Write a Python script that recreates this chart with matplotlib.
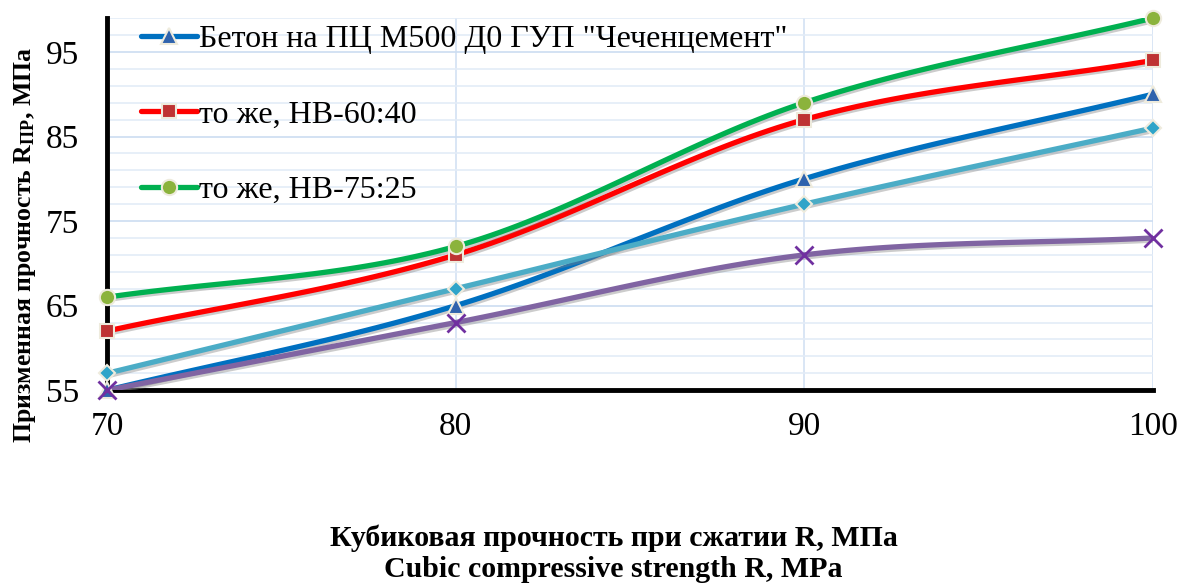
import numpy as np
import matplotlib
matplotlib.use('Agg')
import matplotlib.pyplot as plt
import matplotlib.patheffects as pe
from matplotlib.ticker import MultipleLocator

plt.rcParams['font.family'] = ['Liberation Serif', 'DejaVu Serif']
plt.rcParams['mathtext.fontset'] = 'custom'
plt.rcParams['mathtext.rm'] = 'Liberation Serif'
plt.rcParams['mathtext.bf'] = 'Liberation Serif:bold'

# data
x = [70, 80, 90, 100]
beton_pc = [55, 65, 80, 90]
hv_60_40 = [62, 71, 87, 94]
hv_75_25 = [66, 72, 89, 99]
series_4 = [57, 67, 77, 86]
series_5 = [55, 63, 71, 73]

labels = ['Бетон на ПЦ М500 Д0 ГУП "Чеченцемент"', 'то же, НВ-60:40', 'то же, НВ-75:25', None, None]


def smooth(xs, ys, n=40):
    # Catmull-Rom curve through the points, like Excel "smoothed line"
    xs = np.asarray(xs, float)
    ys = np.asarray(ys, float)
    px = np.concatenate([[2 * xs[0] - xs[1]], xs, [2 * xs[-1] - xs[-2]]])
    py = np.concatenate([[2 * ys[0] - ys[1]], ys, [2 * ys[-1] - ys[-2]]])
    ox, oy = [], []
    t = np.linspace(0, 1, n)
    for i in range(1, len(px) - 2):
        for p, o in ((px, ox), (py, oy)):
            p0, p1, p2, p3 = p[i - 1], p[i], p[i + 1], p[i + 2]
            o.extend(0.5 * (2 * p1 + (-p0 + p2) * t + (2 * p0 - 5 * p1 + 4 * p2 - p3) * t ** 2
                            + (-p0 + 3 * p1 - 3 * p2 + p3) * t ** 3))
    return ox, oy


styles = [
    (beton_pc, '#0070C0', '^', '#2F63AD', 11),
    (hv_60_40, '#FF0000', 's', '#BE3333', 10),
    (hv_75_25, '#00B050', 'o', '#8BB33C', 11),
    (series_4, '#4BACC6', 'D', '#2FA4C9', 8),
    (series_5, '#8064A2', 'x', '#7030A0', 13),
]

fig = plt.figure(figsize=(11.8, 5.85), dpi=100)
ax = fig.add_axes([0.0907, 0.333, 0.8863, 0.636])

shadow = [pe.SimpleLineShadow(offset=(1.5, -1.5), shadow_color='gray', alpha=0.4), pe.Normal()]
handles = []
for (ys, col, mk, mcol, ms), lab in zip(styles, labels):
    sx, sy = smooth(x, ys)
    ax.plot(sx, sy, color=col, lw=3.8, solid_capstyle='round', path_effects=shadow, zorder=3)
    if mk == 'x':
        ax.plot(x, ys, ls='none', marker=mk, ms=ms, mew=2, color=mcol, zorder=4, clip_on=False)
    else:
        ax.plot(x, ys, ls='none', marker=mk, ms=ms, mfc=mcol, mec='#EEEBDD', mew=1.5,
                zorder=4, clip_on=False)
    if lab:
        h, = ax.plot([], [], color=col, lw=3.8, solid_capstyle='round', marker=mk, ms=ms,
                     mfc=mcol, mec='#EEEBDD', mew=1.5, label=lab)
        handles.append(h)

ax.set_xlim(70, 100)
ax.set_ylim(55, 99)
ax.xaxis.set_major_locator(MultipleLocator(10))
ax.yaxis.set_major_locator(MultipleLocator(10, offset=5))
ax.yaxis.set_minor_locator(MultipleLocator(2, offset=1))
ax.grid(axis='y', which='minor', color='#E3ECF7', lw=1.2)
ax.grid(axis='y', which='major', color='#CCDDF1', lw=1.2)
ax.grid(axis='x', which='major', color='#D3E2F4', lw=1.2)
ax.set_axisbelow(True)

for s in ['top', 'right']:
    ax.spines[s].set_visible(False)
for s in ['left', 'bottom']:
    ax.spines[s].set_linewidth(3.5)
ax.tick_params(which='both', length=0, labelsize=24)
ax.tick_params(axis='y', pad=20)
ax.tick_params(axis='x', pad=15)

ax.set_ylabel(r'Призменная прочность $\mathbf{R_{ПР}}$, МПа', fontsize=18.5, fontweight='bold')
ax.yaxis.set_label_coords(-0.066, 0.39)

ax.legend(handles=handles, loc='upper left', bbox_to_anchor=(0.005, 1.06), frameon=False,
          fontsize=23, labelspacing=1.45, handlelength=1.75, handletextpad=0.05)

fig.text(0.52, 0.004, 'Кубиковая прочность при сжатии R, МПа\nCubic compressive strength R, MPa',
         ha='center', va='bottom', fontsize=21.5, fontweight='bold', linespacing=1.18)

fig.savefig('out.png', dpi=100)
